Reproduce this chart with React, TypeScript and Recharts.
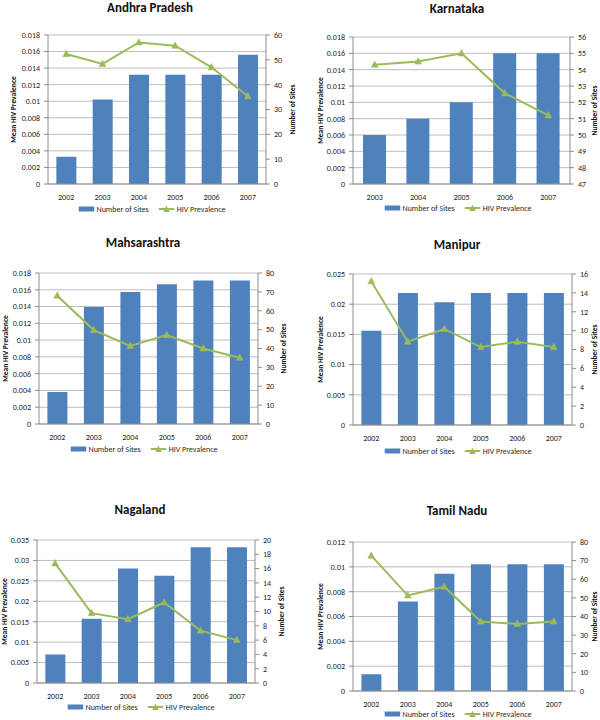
import React from 'react';
import { ComposedChart, Bar, Line, XAxis, YAxis, CartesianGrid, Legend } from 'recharts';

const FONT = 'Carlito, Calibri, Lato, "Liberation Sans", sans-serif';
const BLUE = '#4F81BD';
const GREEN = '#9BBB59';
const GRID = '#bcbcbc';
const AXIS = '#8c8c8c';

// ---- data ----
const years6 = ['2002', '2003', '2004', '2005', '2006', '2007'];
const yearsKa = ['2003', '2004', '2005', '2006', '2007'];

const apSites = [11, 34, 44, 44, 44, 52];
const apHiv = [0.0157, 0.0145, 0.0171, 0.0167, 0.0141, 0.0106];
const apLeftTicks = [0, 0.002, 0.004, 0.006, 0.008, 0.01, 0.012, 0.014, 0.016, 0.018];
const apRightTicks = [0, 10, 20, 30, 40, 50, 60];

const kaSites = [50, 51, 52, 55, 55];
const kaHiv = [0.0146, 0.015, 0.016, 0.0111, 0.0084];
const kaLeftTicks = [0, 0.002, 0.004, 0.006, 0.008, 0.01, 0.012, 0.014, 0.016, 0.018];
const kaRightTicks = [47, 48, 49, 50, 51, 52, 53, 54, 55, 56];

const mhSites = [17, 62, 70, 74, 76, 76];
const mhHiv = [0.0153, 0.0112, 0.0093, 0.0106, 0.009, 0.0079];
const mhLeftTicks = [0, 0.002, 0.004, 0.006, 0.008, 0.01, 0.012, 0.014, 0.016, 0.018];
const mhRightTicks = [0, 10, 20, 30, 40, 50, 60, 70, 80];

const mnSites = [10, 14, 13, 14, 14, 14];
const mnHiv = [0.0238, 0.0138, 0.0159, 0.0129, 0.0138, 0.0129];
const mnLeftTicks = [0, 0.005, 0.01, 0.015, 0.02, 0.025];
const mnRightTicks = [0, 2, 4, 6, 8, 10, 12, 14, 16];

const ngSites = [4, 9, 16, 15, 19, 19];
const ngHiv = [0.0293, 0.0171, 0.0156, 0.0197, 0.0128, 0.0105];
const ngLeftTicks = [0, 0.005, 0.01, 0.015, 0.02, 0.025, 0.03, 0.035];
const ngRightTicks = [0, 2, 4, 6, 8, 10, 12, 14, 16, 18, 20];

const tnSites = [9, 48, 63, 68, 68, 68];
const tnHiv = [0.0109, 0.0077, 0.0084, 0.0056, 0.0054, 0.0056];
const tnLeftTicks = [0, 0.002, 0.004, 0.006, 0.008, 0.01, 0.012];
const tnRightTicks = [0, 10, 20, 30, 40, 50, 60, 70, 80];

const sitesName = 'Number of Sites';
const hivName = 'HIV Prevalence';
const leftAxisTitle = 'Mean HIV Prevalence';
const rightAxisTitle = 'Number of Sites';
const legendOrder = ['sites', 'hiv'];

type Panel = {
  title: string;
  years: string[];
  sites: number[];
  hiv: number[];
  leftTicks: number[];
  rightTicks: number[];
  x0: number;
  y0: number;
  plotL: number;
  plotR: number;
  plotT: number;
  plotB: number;
  legendY: number;
  legendCx: number;
  titleCx: number;
  titleY: number;
  leftTitleX: number;
  rightTitleX: number;
};

const panels: Panel[] = [
  {
    title: 'Andhra Pradesh', years: years6, sites: apSites, hiv: apHiv, leftTicks: apLeftTicks, rightTicks: apRightTicks,
    x0: 0, y0: 0, plotL: 48, plotR: 266, plotT: 35, plotB: 184, legendY: 209, legendCx: 152, titleCx: 150, titleY: 8,
    leftTitleX: 13, rightTitleX: 292,
  },
  {
    title: 'Karnataka', years: yearsKa, sites: kaSites, hiv: kaHiv, leftTicks: kaLeftTicks, rightTicks: kaRightTicks,
    x0: 300, y0: 0, plotL: 353, plotR: 570, plotT: 37, plotB: 184, legendY: 208, legendCx: 458, titleCx: 457, titleY: 9,
    leftTitleX: 320, rightTitleX: 594,
  },
  {
    title: 'Mahsarashtra', years: years6, sites: mhSites, hiv: mhHiv, leftTicks: mhLeftTicks, rightTicks: mhRightTicks,
    x0: 0, y0: 240, plotL: 39, plotR: 258, plotT: 273, plotB: 424, legendY: 449, legendCx: 144, titleCx: 143, titleY: 243,
    leftTitleX: 5, rightTitleX: 283,
  },
  {
    title: 'Manipur', years: years6, sites: mnSites, hiv: mnHiv, leftTicks: mnLeftTicks, rightTicks: mnRightTicks,
    x0: 300, y0: 240, plotL: 353, plotR: 572, plotT: 274, plotB: 425, legendY: 451, legendCx: 458, titleCx: 457, titleY: 245,
    leftTitleX: 320, rightTitleX: 594,
  },
  {
    title: 'Nagaland', years: years6, sites: ngSites, hiv: ngHiv, leftTicks: ngLeftTicks, rightTicks: ngRightTicks,
    x0: 0, y0: 480, plotL: 37, plotR: 255, plotT: 540, plotB: 683, legendY: 707, legendCx: 141, titleCx: 140, titleY: 510,
    leftTitleX: 4, rightTitleX: 281,
  },
  {
    title: 'Tamil Nadu', years: years6, sites: tnSites, hiv: tnHiv, leftTicks: tnLeftTicks, rightTicks: tnRightTicks,
    x0: 300, y0: 480, plotL: 353, plotR: 572, plotT: 542, plotB: 691, legendY: 714, legendCx: 458, titleCx: 457, titleY: 511,
    leftTitleX: 320, rightTitleX: 594,
  },
];

const triPoints = (cx: number, cy: number) => `${cx},${cy - 3.8} ${cx - 3.4},${cy + 2.6} ${cx + 3.4},${cy + 2.6}`;

function StateChart({ p }: { p: Panel }) {
  const data = p.years.map((y, i) => ({ year: y, sites: p.sites[i], hiv: p.hiv[i] }));
  const legendH = 10;
  const chartH = p.legendY + 6 - p.y0;
  const xAxisH = chartH - 1 - legendH - (p.plotB - p.y0);
  const leftW = p.plotL - p.x0;
  const rightW = p.x0 + 300 - p.plotR;
  const midY = (p.plotT + p.plotB) / 2 - p.y0;
  const lx = p.leftTitleX - p.x0;
  const rx = p.rightTitleX - p.x0;
  const tickStyle = { fontSize: 8, fill: '#262626', fontFamily: FONT };

  const renderLegend = (props: any) => {
    const raw = (props && props.payload) || [];
    const items = [...raw].sort((a: any, b: any) => legendOrder.indexOf(a.dataKey) - legendOrder.indexOf(b.dataKey));
    return (
      <div style={{ position: 'relative', width: 300, height: legendH }}>
        <div
          style={{
            position: 'absolute', left: p.legendCx - p.x0, top: 0, transform: 'translateX(-50%)',
            display: 'flex', alignItems: 'center', height: legendH, lineHeight: `${legendH}px`, whiteSpace: 'nowrap',
            fontFamily: FONT, fontSize: 8, color: '#262626',
          }}
        >
          {items.map((it: any, i: number) => (
            <div key={i} style={{ display: 'flex', alignItems: 'center', marginRight: i === 0 ? 10 : 0 }}>
              {it.dataKey === 'sites' ? (
                <svg width={16} height={8} style={{ marginRight: 2 }}>
                  <rect x={0} y={1.5} width={16} height={5} fill={BLUE} />
                </svg>
              ) : (
                <svg width={16} height={8} style={{ marginRight: 2 }}>
                  <line x1={0} y1={4} x2={16} y2={4} stroke={GREEN} strokeWidth={2} />
                  <polygon points={triPoints(8, 4.5)} fill={GREEN} />
                </svg>
              )}
              <span>{it.value}</span>
            </div>
          ))}
        </div>
      </div>
    );
  };

  return (
    <>
      <div
        style={{
          position: 'absolute', left: p.titleCx - 100, top: p.titleY - 8, width: 200, textAlign: 'center',
          fontFamily: FONT, fontWeight: 700, fontSize: 13, lineHeight: '16px', color: '#111',
        }}
      >
        {p.title}
      </div>
      <div style={{ position: 'absolute', left: p.x0, top: p.y0 }}>
        <ComposedChart
          width={300}
          height={chartH}
          data={data}
          margin={{ top: p.plotT - p.y0, left: 0, right: 0, bottom: 1 }}
          barCategoryGap="23%"
        >
          <CartesianGrid yAxisId="left" vertical={false} stroke={GRID} />
          <XAxis
            dataKey="year"
            height={xAxisH}
            tickLine={false}
            axisLine={{ stroke: AXIS }}
            tick={tickStyle}
            tickMargin={4}
            interval={0}
          />
          <YAxis
            yAxisId="left"
            orientation="left"
            width={leftW}
            domain={[p.leftTicks[0], p.leftTicks[p.leftTicks.length - 1]]}
            ticks={p.leftTicks}
            interval={0}
            tick={tickStyle}
            tickSize={4}
            tickMargin={4}
            tickLine={{ stroke: AXIS }}
            axisLine={{ stroke: AXIS }}
            label={() => (
              <text
                x={lx}
                y={midY}
                transform={`rotate(-90 ${lx} ${midY})`}
                textAnchor="middle"
                dominantBaseline="central"
                fontFamily={FONT}
                fontWeight={700}
                fontSize={7.5}
                fill="#111"
              >
                {leftAxisTitle}
              </text>
            )}
          />
          <YAxis
            yAxisId="right"
            orientation="right"
            width={rightW}
            domain={[p.rightTicks[0], p.rightTicks[p.rightTicks.length - 1]]}
            ticks={p.rightTicks}
            interval={0}
            tick={tickStyle}
            tickSize={4}
            tickMargin={4}
            tickLine={{ stroke: AXIS }}
            axisLine={{ stroke: AXIS }}
            label={() => (
              <text
                x={rx}
                y={midY}
                transform={`rotate(-90 ${rx} ${midY})`}
                textAnchor="middle"
                dominantBaseline="central"
                fontFamily={FONT}
                fontWeight={700}
                fontSize={7.5}
                fill="#111"
              >
                {rightAxisTitle}
              </text>
            )}
          />
          <Bar yAxisId="right" dataKey="sites" name={sitesName} fill={BLUE} isAnimationActive={false} />
          <Line
            yAxisId="left"
            dataKey="hiv"
            name={hivName}
            stroke={GREEN}
            strokeWidth={2}
            isAnimationActive={false}
            activeDot={false}
            dot={(d: any) => <polygon key={`t${d.index}`} points={triPoints(d.cx, d.cy)} fill={GREEN} stroke={GREEN} strokeWidth={0.5} />}
          />
          <Legend verticalAlign="bottom" content={renderLegend} />
        </ComposedChart>
      </div>
    </>
  );
}

export default function App() {
  return (
    <div
      style={{
        position: 'absolute', left: 0, top: 0, width: 600, height: 720, overflow: 'hidden', background: '#fff',
      }}
    >
      {panels.map((p) => (
        <StateChart key={p.title} p={p} />
      ))}
    </div>
  );
}
